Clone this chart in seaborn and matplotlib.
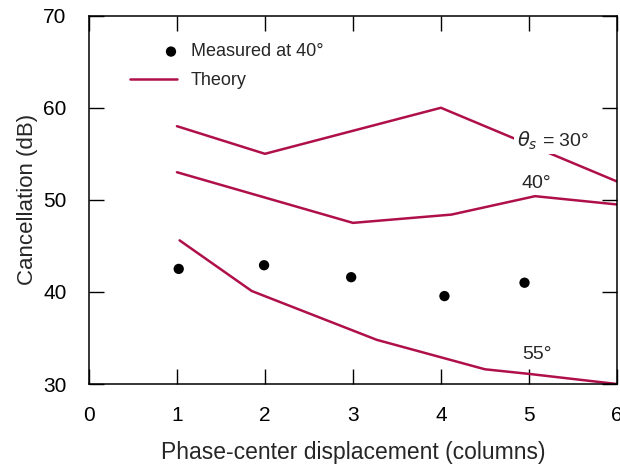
import numpy as np
import pandas as pd
import matplotlib
matplotlib.use("Agg")
import matplotlib.pyplot as plt
import seaborn as sns
from matplotlib.legend_handler import HandlerPathCollection

# Theory curves (steering angle -> cancellation)
x_30 = [1.0, 2.0, 4.0, 6.0]
y_30 = [58.0, 55.0, 60.0, 52.0]
x_40 = [1.0, 3.0, 4.12, 5.07, 6.0]
y_40 = [53.0, 47.5, 48.4, 50.4, 49.5]
x_55 = [1.03, 1.85, 3.27, 4.5, 5.0, 6.0]
y_55 = [45.6, 40.1, 34.8, 31.6, 31.1, 30.0]

# Measured at 40 deg
x_meas = [1.02, 1.99, 2.98, 4.04, 4.95]
y_meas = [42.5, 42.9, 41.6, 39.55, 41.0]

x_ticks = [0, 1, 2, 3, 4, 5, 6]
y_ticks = [30, 40, 50, 60, 70]


class RightMarker(HandlerPathCollection):
    # put the dot near the right end of the handle, like the original
    def get_xdata(self, legend, xdescent, ydescent, width, height, fontsize):
        x = [width * 0.87 - xdescent]
        return x, x


sns.set_style("ticks")
plt.rcParams['font.family'] = ['Liberation Sans', 'DejaVu Sans']
plt.rcParams['mathtext.fontset'] = 'dejavusans'

line_color = "#B0104A"

fig = plt.figure(figsize=(6.2, 4.67), dpi=100)
ax = fig.add_axes([0.1435, 0.1777, 0.8515, 0.7887])

curves = [(x_30, y_30, "Theory"), (x_40, y_40, None), (x_55, y_55, None)]
for xs, ys, lab in curves:
    sns.lineplot(x=xs, y=ys, ax=ax, color=line_color, linewidth=1.8,
                 sort=False, label=lab, legend=lab is not None)

sns.scatterplot(x=x_meas, y=y_meas, ax=ax, color="black", s=55,
                edgecolor="none", label="Measured at 40°", zorder=5)

# curve labels
ax.text(5.27, 56.4, r"$\theta_s$ = 30°", fontsize=14, ha="center", va="center",
        bbox=dict(facecolor="white", edgecolor="none", pad=1.5), zorder=4)
ax.text(5.08, 51.8, "40°", fontsize=14, ha="center", va="center")
ax.text(5.09, 33.2, "55°", fontsize=14, ha="center", va="center")

ax.set_xlim(0, 6)
ax.set_ylim(30, 70)
ax.set_xticks(x_ticks)
ax.set_yticks(y_ticks)
ax.tick_params(direction="in", length=11, width=1, top=True, right=True,
               labelsize=15, pad=16, colors="black")
for s in ax.spines.values():
    s.set_visible(True)
    s.set_linewidth(1.1)
    s.set_color("black")

ax.set_xlabel("Phase-center displacement (columns)", fontsize=16.5, labelpad=11)
ax.set_ylabel("Cancellation (dB)", fontsize=16, labelpad=4)

handles, labels = ax.get_legend_handles_labels()
order = [labels.index("Measured at 40°"), labels.index("Theory")]
ax.legend([handles[i] for i in order], [labels[i] for i in order],
          loc="upper left", bbox_to_anchor=(0.078, 0.925), frameon=False,
          borderaxespad=0, borderpad=0,
          fontsize=13, handlelength=2.6, handletextpad=0.75, labelspacing=0.65,
          handler_map={type(handles[order[0]]): RightMarker()})

fig.savefig("out.png", dpi=100)
